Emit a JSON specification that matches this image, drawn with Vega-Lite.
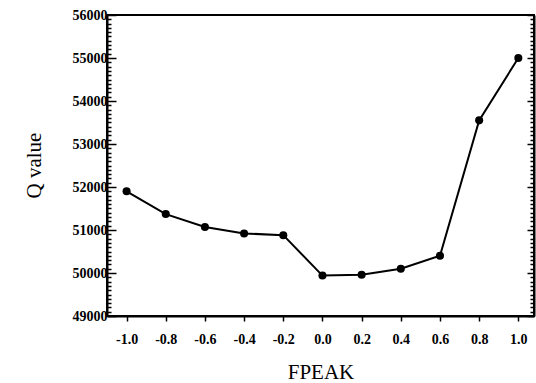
{
  "$schema": "https://vega.github.io/schema/vega-lite/v6.json",
  "autosize": "none",
  "width": 427,
  "height": 301,
  "padding": {"left": 107, "top": 15, "right": 2, "bottom": 67},
  "background": "white",
  "config": {
    "view": {"stroke": "black", "strokeWidth": 2},
    "axis": {
      "labelFont": "Liberation Serif",
      "titleFont": "Liberation Serif",
      "labelColor": "black",
      "titleColor": "black",
      "labelFontSize": 14,
      "labelFontWeight": "bold",
      "titleFontSize": 21,
      "titleFontWeight": "normal",
      "domainColor": "black",
      "domainWidth": 2,
      "tickColor": "black",
      "tickWidth": 1.5,
      "grid": false,
      "labelOverlap": false,
      "labelBound": false,
      "labelFlush": false
    }
  },
  "data": {
    "values": [
      {"FPEAK": -1.0, "Q": 51900},
      {"FPEAK": -0.8, "Q": 51370},
      {"FPEAK": -0.6, "Q": 51070},
      {"FPEAK": -0.4, "Q": 50920},
      {"FPEAK": -0.2, "Q": 50880},
      {"FPEAK": 0.0, "Q": 49940},
      {"FPEAK": 0.2, "Q": 49960},
      {"FPEAK": 0.4, "Q": 50100},
      {"FPEAK": 0.6, "Q": 50400},
      {"FPEAK": 0.8, "Q": 53550},
      {"FPEAK": 1.0, "Q": 55000}
    ]
  },
  "encoding": {
    "x": {
      "field": "FPEAK",
      "type": "quantitative",
      "scale": {"domain": [-1.1, 1.08], "nice": false, "zero": false},
      "axis": {
        "title": "FPEAK",
        "values": [-1.0, -0.8, -0.6, -0.4, -0.2, 0.0, 0.2, 0.4, 0.6, 0.8, 1.0],
        "labelExpr": "replace(format(datum.value, '.1f'), '\u2212', '-')",
        "tickSize": 5,
        "labelPadding": 11,
        "titleY": 62,
        "titleBaseline": "alphabetic"
      }
    }
  },
  "layer": [
    {
      "mark": {"type": "line", "color": "black", "strokeWidth": 2},
      "encoding": {
        "y": {
          "field": "Q",
          "type": "quantitative",
          "scale": {"domain": [49000, 56000], "nice": false, "zero": false},
          "axis": {
            "orient": "left",
            "title": "Q value",
            "tickCount": 70,
            "labelExpr": "datum.value % 1000 === 0 ? format(datum.value, 'd') : ''",
            "tickSize": {"condition": {"test": "datum.value % 1000 === 0", "value": -9}, "value": -4},
            "labelPadding": 9,
            "titleAngle": -90,
            "titleX": -73,
            "titleY": 150,
            "titleAlign": "center",
            "titleBaseline": "middle"
          }
        }
      }
    },
    {
      "mark": {"type": "point", "filled": true, "color": "black", "size": 65, "opacity": 1},
      "encoding": {
        "y": {
          "field": "Q",
          "type": "quantitative",
          "axis": {
            "orient": "right",
            "title": null,
            "tickCount": 70,
            "labels": false,
            "tickSize": {"condition": {"test": "datum.value % 1000 === 0", "value": -7}, "value": -4}
          }
        }
      }
    }
  ],
  "resolve": {"axis": {"y": "independent"}}
}
